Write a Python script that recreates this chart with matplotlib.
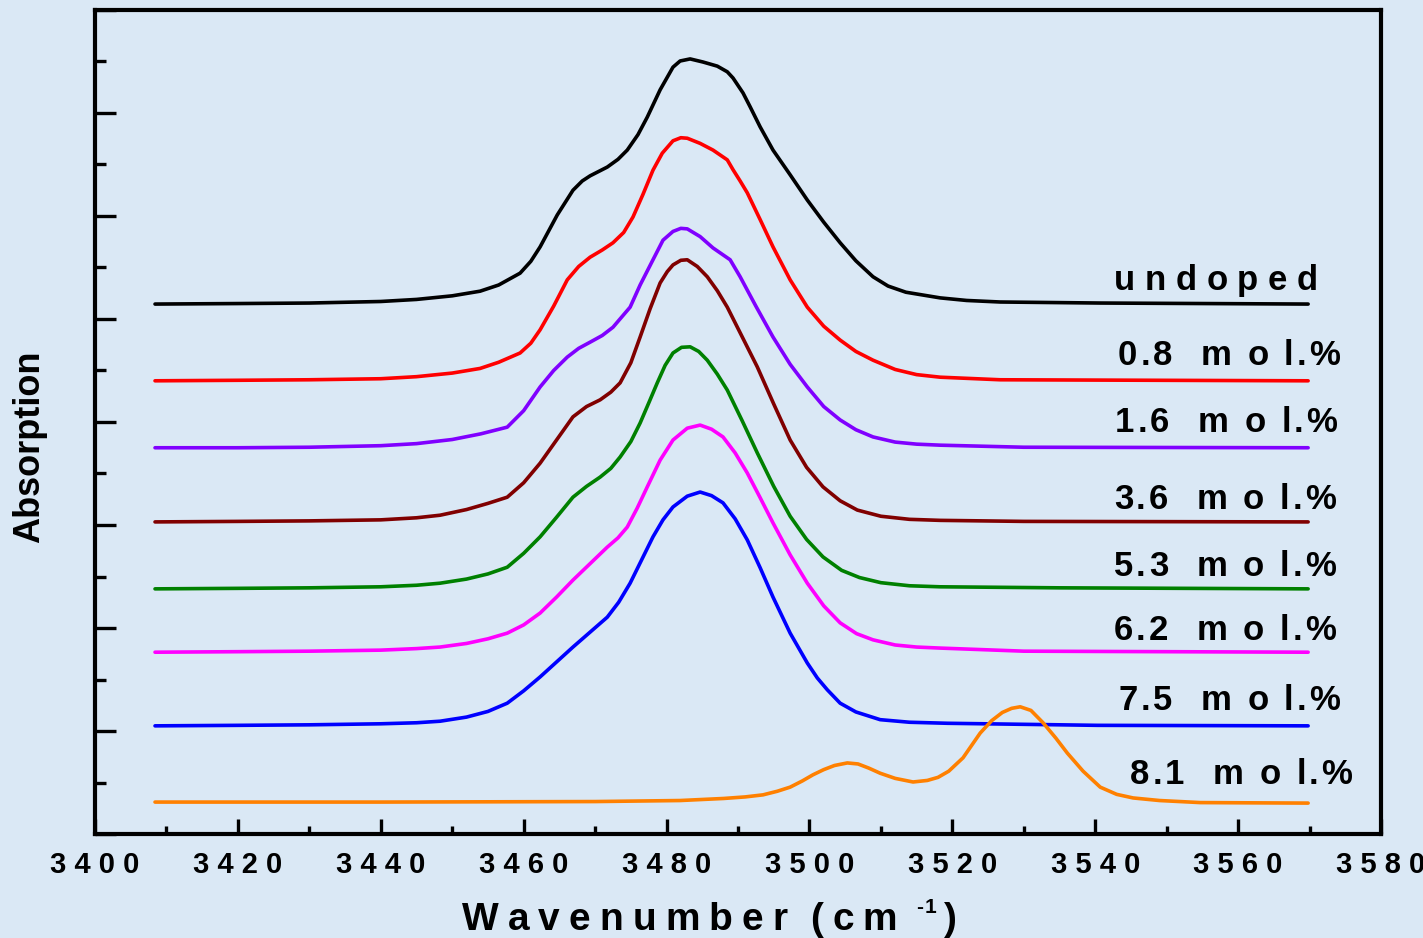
import numpy as np
import matplotlib
matplotlib.use("Agg")
import matplotlib.pyplot as plt
import matplotlib.ticker as mticker
from matplotlib.font_manager import FontProperties, findfont, get_font
from matplotlib.transforms import offset_copy

plt.rcParams['font.family'] = ['Liberation Sans', 'DejaVu Sans']
plt.rcParams['font.weight'] = 'bold'

# ---- spectra (wavenumber, stacked absorption) ----
wn_undoped = [3408.4, 3420, 3430, 3440, 3445, 3450, 3453.9, 3456.5, 3459.5, 3461, 3462.3, 3464.7,
              3466.9, 3468.2, 3469.3, 3471.7, 3473.2, 3474.5, 3476, 3477.3, 3479.1, 3480.9,
              3481.9, 3483.3, 3485.1, 3487.1, 3488.5, 3489.3, 3490.7, 3491.7, 3493.1, 3494.9,
              3497.3, 3499.7, 3502, 3504.3, 3506.5, 3508.9, 3511, 3513.5, 3518.3, 3522,
              3526.7, 3540.7, 3569.8]
ab_undoped = [10.29, 10.30, 10.31, 10.34, 10.38, 10.45, 10.54, 10.66, 10.89, 11.12, 11.40, 12.02,
              12.50, 12.68, 12.78, 12.95, 13.10, 13.28, 13.58, 13.92, 14.45, 14.89,
              15.01, 15.05, 14.99, 14.91, 14.80, 14.68, 14.39, 14.12, 13.73, 13.28,
              12.80, 12.31, 11.88, 11.48, 11.13, 10.82, 10.64, 10.52, 10.41, 10.36,
              10.33, 10.31, 10.29]

wn_08 = [3408.4, 3420, 3430, 3440, 3445, 3450, 3453.9, 3456.5, 3459.5, 3461, 3462.3, 3464.2,
         3466.1, 3467.7, 3469.3, 3471, 3472.5, 3474, 3475.3, 3476.7, 3478.1, 3479.4, 3480.9,
         3482, 3482.9, 3484.7, 3486.5, 3488.5, 3489.3, 3490.3, 3491.3, 3493.1, 3494.9, 3497.3,
         3499.7, 3502, 3504.3, 3506.5, 3508.9, 3512, 3515, 3518.3, 3526.7, 3569.8]
ab_08 = [8.80, 8.81, 8.82, 8.84, 8.88, 8.95, 9.04, 9.16, 9.34, 9.53, 9.79, 10.25,
         10.76, 11.02, 11.20, 11.34, 11.48, 11.68, 11.98, 12.42, 12.89, 13.22, 13.46,
         13.52, 13.51, 13.41, 13.28, 13.09, 12.90, 12.68, 12.45, 11.93, 11.40, 10.76,
         10.23, 9.86, 9.59, 9.37, 9.20, 9.02, 8.92, 8.87, 8.82, 8.80]

wn_16 = [3408.4, 3420, 3430, 3440, 3445, 3450, 3454, 3457.7, 3460, 3462.3, 3464.2, 3466.1,
         3467.7, 3469.3, 3471, 3472.5, 3474.9, 3476.3, 3478.1, 3479.5, 3480.9, 3482, 3482.9,
         3484.7, 3486.5, 3488.9, 3490.3, 3492.5, 3494.9, 3497.3, 3499.7, 3502, 3504.3, 3506.5,
         3508.9, 3512, 3515, 3518.3, 3530, 3569.8]
ab_16 = [7.50, 7.50, 7.51, 7.54, 7.58, 7.66, 7.77, 7.90, 8.22, 8.68, 9.00, 9.26,
         9.43, 9.55, 9.68, 9.84, 10.23, 10.66, 11.15, 11.53, 11.70, 11.76, 11.75,
         11.60, 11.38, 11.15, 10.82, 10.25, 9.65, 9.12, 8.68, 8.30, 8.04, 7.85,
         7.71, 7.61, 7.57, 7.55, 7.51, 7.50]

wn_36 = [3408.4, 3420, 3430, 3440, 3445, 3448.3, 3452, 3455, 3457.7, 3460, 3462.3, 3464.6,
         3466.9, 3468.8, 3470.7, 3472.2, 3473.5, 3475, 3476.3, 3477.7, 3479.1, 3480.1, 3480.9,
         3482, 3482.9, 3484.3, 3485.7, 3487.1, 3488.5, 3490.6, 3492.7, 3495, 3497.3, 3499.6,
         3501.9, 3504.3, 3506.7, 3510, 3514, 3518.3, 3530, 3569.8]
ab_36 = [6.06, 6.07, 6.08, 6.10, 6.14, 6.19, 6.30, 6.42, 6.54, 6.82, 7.20, 7.65,
         8.10, 8.30, 8.43, 8.58, 8.76, 9.15, 9.65, 10.20, 10.70, 10.92, 11.05,
         11.14, 11.15, 11.02, 10.82, 10.55, 10.23, 9.65, 9.07, 8.35, 7.65, 7.12,
         6.74, 6.47, 6.29, 6.17, 6.11, 6.09, 6.07, 6.06]

wn_53 = [3408.4, 3420, 3430, 3440, 3445, 3448.3, 3452, 3455, 3457.7, 3460, 3462.3, 3464.6,
         3466.9, 3468.8, 3470.7, 3472.2, 3473.5, 3475, 3476.3, 3477.6, 3478.7, 3479.8, 3480.9,
         3482.1, 3483.3, 3484.5, 3485.7, 3487.1, 3488.5, 3490.6, 3492.7, 3495, 3497.3, 3499.6,
         3501.9, 3504.5, 3507, 3510, 3514, 3518.3, 3535, 3569.8]
ab_53 = [4.76, 4.77, 4.78, 4.80, 4.83, 4.87, 4.95, 5.05, 5.18, 5.45, 5.77, 6.15,
         6.54, 6.75, 6.93, 7.10, 7.32, 7.62, 7.98, 8.40, 8.76, 9.10, 9.34,
         9.45, 9.46, 9.37, 9.20, 8.93, 8.62, 8.02, 7.40, 6.75, 6.17, 5.72,
         5.38, 5.12, 4.98, 4.88, 4.82, 4.80, 4.78, 4.76]

wn_62 = [3408.4, 3420, 3430, 3440, 3445, 3448.3, 3452, 3455, 3457.7, 3460, 3462.3, 3464.6,
         3466.9, 3469.3, 3471.7, 3473.2, 3474.5, 3475.9, 3477.3, 3479.1, 3480.9, 3482.9, 3484.7,
         3486.3, 3487.9, 3489.6, 3491.3, 3493.1, 3494.9, 3497.3, 3499.7, 3502, 3504.3, 3506.6,
         3508.9, 3512, 3515, 3518.3, 3530, 3569.8]
ab_62 = [3.53, 3.54, 3.55, 3.57, 3.60, 3.63, 3.70, 3.79, 3.90, 4.06, 4.29, 4.60,
         4.93, 5.25, 5.57, 5.75, 5.96, 6.33, 6.74, 7.26, 7.65, 7.88, 7.94,
         7.86, 7.71, 7.40, 7.01, 6.53, 6.04, 5.42, 4.87, 4.43, 4.10, 3.89,
         3.77, 3.67, 3.63, 3.61, 3.55, 3.53]

wn_75 = [3408.4, 3420, 3430, 3440, 3445, 3448.3, 3452, 3455, 3457.7, 3460, 3462.3, 3464.6,
         3466.9, 3469.3, 3471.7, 3473.3, 3474.9, 3476.5, 3478.1, 3479.5, 3480.9, 3482.9, 3484.7,
         3486.3, 3487.9, 3489.6, 3491.3, 3493.1, 3494.9, 3497.3, 3499.7, 3501.1, 3502.5, 3504.3,
         3506.5, 3509.9, 3514, 3519.3, 3540.3, 3569.8]
ab_75 = [2.10, 2.11, 2.12, 2.14, 2.16, 2.19, 2.27, 2.38, 2.54, 2.78, 3.05, 3.34,
         3.63, 3.92, 4.21, 4.50, 4.87, 5.32, 5.77, 6.10, 6.35, 6.56, 6.64,
         6.57, 6.43, 6.12, 5.71, 5.17, 4.60, 3.90, 3.32, 3.03, 2.80, 2.54,
         2.37, 2.22, 2.17, 2.15, 2.11, 2.10]

wn_81 = [3408.4, 3440, 3470, 3481.9, 3488, 3491, 3493.5, 3495.5, 3497.3, 3499, 3500.5, 3502,
         3503.5, 3505.3, 3506.8, 3508.3, 3509.9, 3512, 3514.5, 3516.5, 3518, 3519.5, 3521.5,
         3523.9, 3525.5, 3527, 3528.3, 3529.5, 3531, 3532.7, 3534.5, 3536.1, 3538.3, 3540.7,
         3543, 3545.3, 3549, 3554.7, 3569.8]
ab_81 = [0.62, 0.62, 0.63, 0.65, 0.69, 0.72, 0.76, 0.83, 0.91, 1.03, 1.15, 1.25,
         1.33, 1.38, 1.36, 1.28, 1.18, 1.08, 1.01, 1.04, 1.10, 1.22, 1.48,
         1.96, 2.20, 2.36, 2.44, 2.47, 2.40, 2.16, 1.86, 1.57, 1.22, 0.91,
         0.77, 0.70, 0.65, 0.61, 0.60]

series = [(wn_undoped, ab_undoped), (wn_08, ab_08), (wn_16, ab_16), (wn_36, ab_36),
          (wn_53, ab_53), (wn_62, ab_62), (wn_75, ab_75), (wn_81, ab_81)]
labels = ['u n d o p e d', '0.8  m o l.%', '1.6  m o l.%', '3.6  m o l.%',
          '5.3  m o l.%', '6.2  m o l.%', '7.5  m o l.%', '8.1  m o l.%']
colors = ['#000000', '#ff0000', '#8000ff', '#800000', '#008000', '#ff00ff', '#0000ff', '#ff8000']
label_x = [3571.2, 3574.3, 3573.9, 3573.7, 3573.7, 3573.7, 3574.3, 3576.0]
label_y = [10.56, 9.11, 7.81, 6.31, 5.01, 3.77, 2.41, 0.97]
label_gap = [0, 3, 3, 3, 3, 3, 3, 3]

bg = '#dae8f5'
fig = plt.figure(figsize=(14.23, 9.38), dpi=100, facecolor=bg)
ax = fig.add_axes([95/1423, 1-834/938, 1286/1423, 824/938])
ax.set_facecolor(bg)


def spaced_text(x, y, s, size, gap, base, ha='left'):
    # draw text char by char with extra letter spacing (gap in pixels)
    fp = FontProperties(family='Liberation Sans', weight='bold', size=size)
    font = get_font(findfont(fp))
    font.set_size(size, fig.dpi)
    adv = [font.load_char(ord(ch)).linearHoriAdvance / 65536 for ch in s]
    total = sum(adv) + gap * (len(s) - 1)
    off = {'left': 0, 'center': -total / 2, 'right': -total}[ha]
    for ch, a in zip(s, adv):
        if ch != ' ':
            fig.text(x, y, ch, ha='left', va='baseline', fontproperties=fp,
                     transform=offset_copy(base, fig=fig, x=off, y=0, units='dots'))
        off += a + gap
    return off


for (x, y), c in zip(series, colors):
    ax.plot(x, y, color=c, lw=2.6, solid_capstyle='round', solid_joinstyle='round')

for lab, lx, ly, g in zip(labels, label_x, label_y, label_gap):
    spaced_text(lx, ly, lab, 25, g, ax.transData, ha='right')

ax.set_xlim(3400, 3580)
ax.set_ylim(0, 16)
ax.xaxis.set_major_locator(mticker.MultipleLocator(20))
ax.xaxis.set_minor_locator(mticker.MultipleLocator(10))
ax.xaxis.set_major_formatter(mticker.FuncFormatter(lambda v, p: ' '.join(f'{v:.0f}')))
ax.yaxis.set_major_locator(mticker.MultipleLocator(2))
ax.yaxis.set_minor_locator(mticker.MultipleLocator(1))
ax.yaxis.set_major_formatter(mticker.NullFormatter())

for s in ax.spines.values():
    s.set_linewidth(3.0)
ax.tick_params(axis='x', which='major', direction='in', length=11, width=2.4,
               labelsize=21, pad=12)
ax.tick_params(axis='x', which='minor', direction='in', length=6, width=2.4)
ax.tick_params(axis='y', which='major', direction='in', length=15, width=2.4)
ax.tick_params(axis='y', which='minor', direction='in', length=8, width=2.4)
for t in ax.get_xticklabels():
    t.set_fontweight('bold')

# x axis title with letter spacing and a raised -1
xl = 462/1423
yl = 1 - 930/938
end = spaced_text(xl, yl, 'Wavenumber', 28, 9, fig.transFigure)
end1 = spaced_text(xl, yl, '(cm', 28, 9, offset_copy(fig.transFigure, fig=fig, x=end + 14, y=0, units='dots'))
end2 = spaced_text(xl, yl, '-1', 15, 1, offset_copy(fig.transFigure, fig=fig, x=end + 14 + end1 + 10, y=17, units='dots'))
spaced_text(xl, yl, ')', 28, 0, offset_copy(fig.transFigure, fig=fig, x=end + 14 + end1 + 10 + end2 + 7, y=0, units='dots'))

fig.text(30/1423, 1-447/938, 'Absorption', rotation=90, ha='center', va='center',
         fontsize=26, fontweight='bold')

fig.savefig('out.png', dpi=100, facecolor=bg)
